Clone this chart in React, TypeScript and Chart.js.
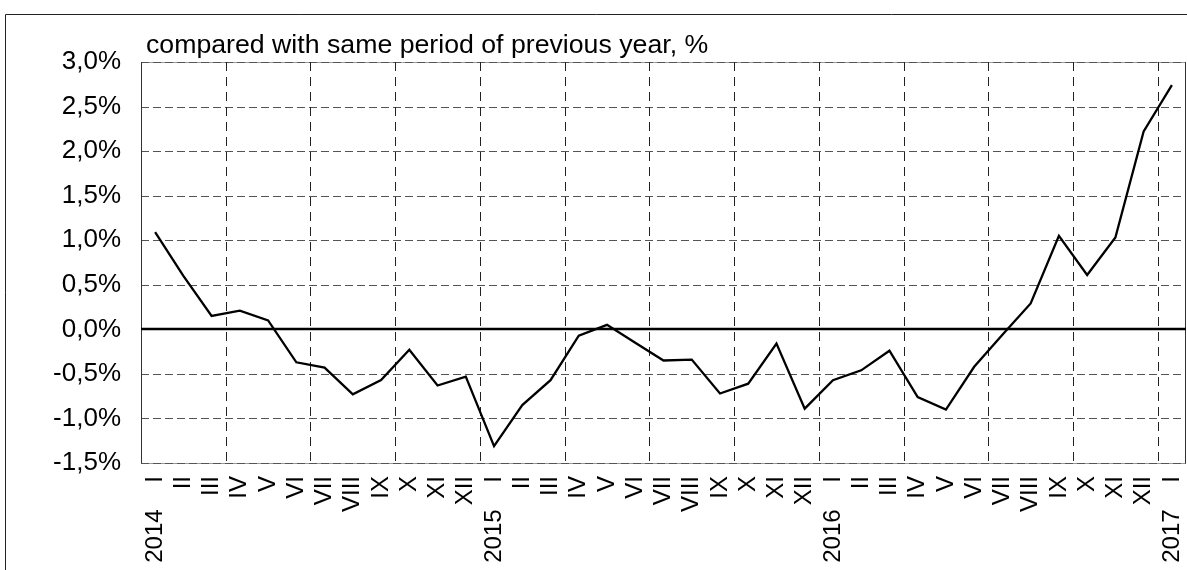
import React, { useEffect, useRef } from "react";
import { Chart, registerables } from "chart.js";

Chart.register(...registerables);

const categories: string[] = [
  "2014    I", "II", "III", "IV", "V", "VI", "VII", "VIII", "IX", "X", "XI", "XII",
  "2015    I", "II", "III", "IV", "V", "VI", "VII", "VIII", "IX", "X", "XI", "XII",
  "2016    I", "II", "III", "IV", "V", "VI", "VII", "VIII", "IX", "X", "XI", "XII",
  "2017    I",
];

const values: number[] = [
  1.09, 0.6, 0.15, 0.21, 0.1, -0.37, -0.43, -0.73, -0.57, -0.23, -0.63, -0.53,
  -1.31, -0.85, -0.57, -0.07, 0.05, -0.15, -0.35, -0.34, -0.72, -0.61, -0.16, -0.89,
  -0.57, -0.46, -0.24, -0.76, -0.9, -0.42, -0.06, 0.29, 1.05, 0.61, 1.03, 2.22,
  2.74,
];

const yTicks: number[] = [-1.5, -1, -0.5, 0, 0.5, 1, 1.5, 2, 2.5, 3];

const titleText = "compared with same period of previous year, %";

const FONT = '"Liberation Sans", Arial, Helvetica, sans-serif';

const gridPlugin = {
  id: "customGrid",
  beforeDatasetsDraw(chart: any) {
    const { ctx, chartArea: a, scales } = chart;
    const x = scales.x;
    const y = scales.y;
    ctx.save();
    ctx.lineWidth = 1;
    // horizontal grid lines
    yTicks.forEach((v, i) => {
      if (v === 0) return;
      const py = Math.round(y.getPixelForValue(v)) + 0.5;
      if (i === 0 || i === yTicks.length - 1) {
        ctx.setLineDash([]);
        ctx.strokeStyle = "#9a9a9a";
        ctx.beginPath();
        ctx.moveTo(a.left, py);
        ctx.lineTo(a.right, py);
        ctx.stroke();
      }
      ctx.setLineDash([8, 4]);
      ctx.strokeStyle = "#555555";
      ctx.beginPath();
      ctx.moveTo(a.left, py);
      ctx.lineTo(a.right, py);
      ctx.stroke();
    });
    // vertical grid lines every 3 categories
    ctx.setLineDash([9, 6]);
    ctx.strokeStyle = "#222222";
    for (let k = 3; k < categories.length; k += 3) {
      const px = Math.round(x.getPixelForValue(k - 0.5)) + 0.5;
      ctx.beginPath();
      ctx.moveTo(px, a.top);
      ctx.lineTo(px, a.bottom);
      ctx.stroke();
    }
    // left / right borders
    ctx.setLineDash([]);
    ctx.strokeStyle = "#333333";
    const lx = Math.round(a.left) + 0.5;
    const rx = Math.round(a.right) - 0.5;
    ctx.beginPath();
    ctx.moveTo(lx, a.top);
    ctx.lineTo(lx, a.bottom);
    ctx.moveTo(rx, a.top);
    ctx.lineTo(rx, a.bottom);
    ctx.stroke();
    // zero line
    const zy = Math.round(y.getPixelForValue(0));
    ctx.lineWidth = 2.4;
    ctx.strokeStyle = "#000000";
    ctx.beginPath();
    ctx.moveTo(a.left, zy);
    ctx.lineTo(a.right, zy);
    ctx.stroke();
    ctx.restore();
  },
  afterDraw(chart: any) {
    const { ctx, chartArea: a } = chart;
    ctx.save();
    ctx.font = `26.7px ${FONT}`;
    ctx.fillStyle = "#000000";
    ctx.textAlign = "left";
    ctx.textBaseline = "alphabetic";
    ctx.fillText(titleText, a.left + 5, a.top - 9);
    // outer frame
    ctx.lineWidth = 1;
    ctx.strokeStyle = "#222222";
    ctx.beginPath();
    ctx.moveTo(5.5, chart.height);
    ctx.lineTo(5.5, 14.5);
    ctx.lineTo(chart.width, 14.5);
    ctx.stroke();
    ctx.restore();
  },
};

export default function App() {
  const ref = useRef<HTMLCanvasElement>(null);

  useEffect(() => {
    if (!ref.current) return;
    const chart = new Chart(ref.current, {
      type: "line",
      data: {
        labels: categories,
        datasets: [
          {
            data: values,
            borderColor: "#000000",
            borderWidth: 2.3,
            pointRadius: 0,
            tension: 0,
            fill: false,
          },
        ],
      },
      options: {
        animation: false,
        responsive: false,
        layout: { padding: { top: 62, right: 1, left: 0, bottom: 0 } },
        plugins: {
          legend: { display: false },
          tooltip: { enabled: false },
          title: { display: false },
        },
        scales: {
          x: {
            type: "category",
            offset: true,
            grid: { display: false, drawTicks: false },
            border: { display: false },
            ticks: {
              autoSkip: false,
              maxRotation: 90,
              minRotation: 90,
              padding: 13,
              color: "#000000",
              font: { family: FONT, size: 24 },
            },
            afterFit: (s: any) => {
              s.height = 107;
              s.paddingLeft = 0;
              s.paddingRight = 0;
            },
          },
          y: {
            min: -1.5,
            max: 3,
            grid: { display: false, drawTicks: false },
            border: { display: false },
            ticks: {
              stepSize: 0.5,
              padding: 20,
              color: "#000000",
              font: { family: FONT, size: 26 },
              callback: (v: any) => {
                const n = Number(v);
                const s = (Math.abs(n) < 1e-9 ? 0 : n).toFixed(1).replace(".", ",");
                return s + "%";
              },
            },
            afterFit: (s: any) => {
              s.width = 141;
              s.paddingTop = 0;
              s.paddingBottom = 0;
            },
          },
        },
      },
      plugins: [gridPlugin],
    });
    return () => chart.destroy();
  }, []);

  return (
    <div style={{ position: "absolute", left: 0, top: 0, width: 1187, height: 570 }}>
      <canvas ref={ref} width={1187} height={570} style={{ display: "block" }} />
    </div>
  );
}
